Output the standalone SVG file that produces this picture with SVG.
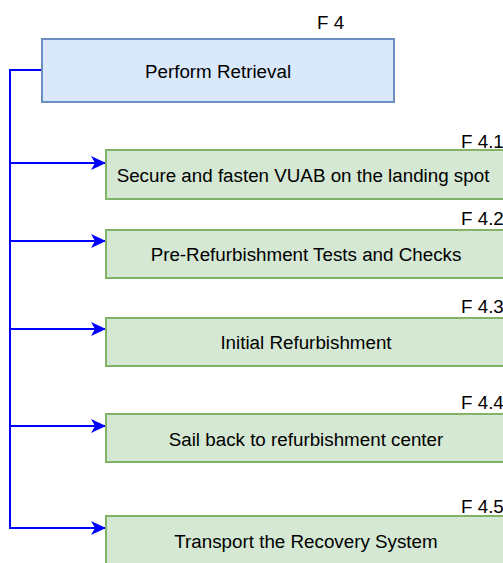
<svg xmlns="http://www.w3.org/2000/svg" width="503" height="563" viewBox="0 0 503 563">
  <style>
    text { font-family: "Liberation Sans", Arial, sans-serif; font-size: 18.8px; fill: #000; }
    .lbl { text-anchor: middle; dominant-baseline: central; }
    .parent { fill: #dae8fc; stroke: #6c8ebf; stroke-width: 2; }
    .child { fill: #d5e8d4; stroke: #82b366; stroke-width: 2; }
    .wire { fill: none; stroke: #0000ff; stroke-width: 2; }
  </style>
  <defs>
    <marker id="arrow" markerUnits="userSpaceOnUse" markerWidth="16" markerHeight="14" refX="15" refY="7" orient="auto">
      <path d="M0,0 L15,7 L0,14 L4,7 Z" fill="#0000ff"/>
    </marker>
  </defs>
  <rect width="503" height="563" fill="#ffffff"/>

  <!-- connectors -->
  <g id="connectors">
    <path class="wire" d="M42,70 H10 V529"/>
    <path class="wire" d="M10,163 H106" marker-end="url(#arrow)"/>
    <path class="wire" d="M10,241 H106" marker-end="url(#arrow)"/>
    <path class="wire" d="M10,329 H106" marker-end="url(#arrow)"/>
    <path class="wire" d="M10,426 H106" marker-end="url(#arrow)"/>
    <path class="wire" d="M9,528 H106" marker-end="url(#arrow)"/>
  </g>

  <g id="f4">
    <rect class="parent" x="42" y="39" width="352" height="63"/>
    <text class="lbl" x="218" y="71">Perform Retrieval</text>
    <text x="317" y="29">F 4</text>
  </g>

  <g id="f4-1">
    <rect class="child" x="106" y="150" width="400" height="49"/>
    <text class="lbl" x="303" y="175">Secure and fasten VUAB on the landing spot</text>
    <text x="461" y="148">F 4.1</text>
  </g>

  <g id="f4-2">
    <rect class="child" x="106" y="230" width="400" height="48"/>
    <text class="lbl" x="306" y="254">Pre-Refurbishment Tests and Checks</text>
    <text x="461" y="225">F 4.2</text>
  </g>

  <g id="f4-3">
    <rect class="child" x="106" y="318" width="400" height="48"/>
    <text class="lbl" x="306" y="342">Initial Refurbishment</text>
    <text x="461" y="313">F 4.3</text>
  </g>

  <g id="f4-4">
    <rect class="child" x="106" y="414" width="400" height="48"/>
    <text class="lbl" x="306" y="439">Sail back to refurbishment center</text>
    <text x="461" y="409">F 4.4</text>
  </g>

  <g id="f4-5">
    <rect class="child" x="106" y="516" width="400" height="50"/>
    <text class="lbl" x="306" y="541">Transport the Recovery System</text>
    <text x="461" y="513">F 4.5</text>
  </g>
</svg>
